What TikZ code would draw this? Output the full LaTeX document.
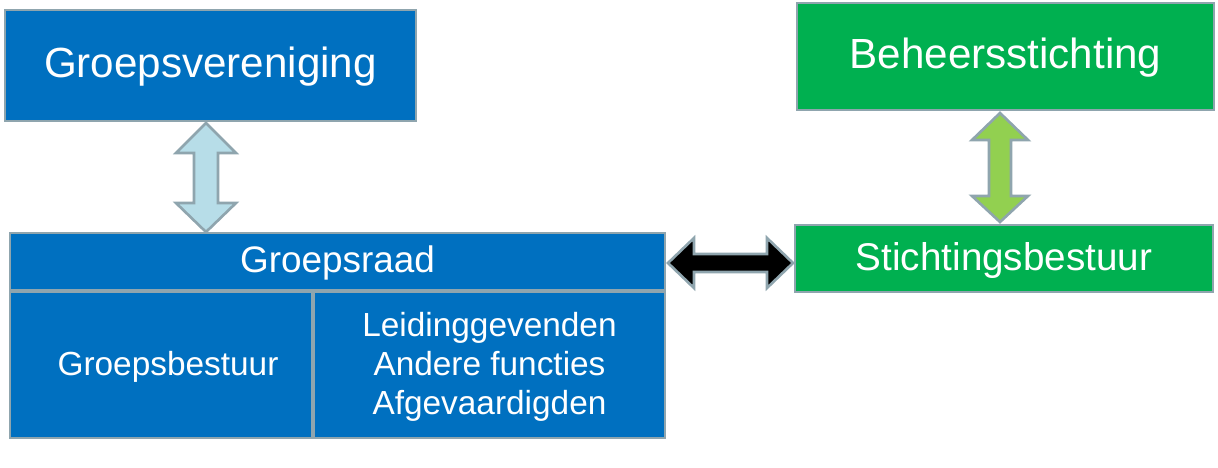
\documentclass[tikz,border=0pt]{standalone}
\usepackage{fontspec}
\setmainfont{Liberation Sans}
\definecolor{bl}{HTML}{0070C0}
\definecolor{gr}{HTML}{00B050}
\definecolor{bd}{HTML}{8FA5AE}
\definecolor{lb}{HTML}{B7DDE8}
\definecolor{lg}{HTML}{92D050}
\begin{document}
\begin{tikzpicture}[x=0.02cm,y=-0.02cm,
 box/.style={draw=bd,line width=1.5pt,text=white,inner sep=0pt},
 barrow/.style={draw=bd,line width=1.5pt,line join=miter}]
\useasboundingbox (0,0) rectangle (1218,467);
\fill[bl,draw=bd,line width=1.5pt] (5,10) rectangle (416,121);
\node[text=white,font=\fontsize{24}{28}\selectfont] (gv) at (210.5,67) {Groepsvereniging};
\fill[gr,draw=bd,line width=1.5pt] (797,3) rectangle (1214,110);
\node[text=white,font=\fontsize{24}{28}\selectfont] (bs) at (1005.5,58) {Beheersstichting};
\fill[bl,draw=bd,line width=1.5pt] (10,233) rectangle (665,290);
\node[text=white,font=\fontsize{21}{25}\selectfont] (gr) at (337.5,263) {Groepsraad};
\fill[bl,draw=bd,line width=1.5pt] (10,292) rectangle (312,438);
\node[text=white,font=\fontsize{19}{23}\selectfont] (gb) at (168,367) {Groepsbestuur};
\fill[bl,draw=bd,line width=1.5pt] (314,292) rectangle (665,438);
\node[text=white,font=\fontsize{19}{23}\selectfont,align=center] (lf) at (489.5,367) {Leidinggevenden\\[-1pt]Andere functies\\[-1pt]Afgevaardigden};
\fill[gr,draw=bd,line width=1.5pt] (795,225) rectangle (1213,292);
\node[text=white,font=\fontsize{22}{26}\selectfont] (sb) at (1004,261) {Stichtingsbestuur};
% light blue vertical arrow
\filldraw[barrow,fill=lb] (206,123) -- (236,153) -- (218,153) -- (218,203) -- (236,203) -- (206,232) -- (176,203) -- (194,203) -- (194,153) -- (176,153) -- cycle;
% green vertical arrow
\filldraw[barrow,fill=lg] (1000,113) -- (1028,140) -- (1011,140) -- (1011,196) -- (1028,196) -- (1000,222) -- (972,196) -- (989,196) -- (989,140) -- (972,140) -- cycle;
% black horizontal arrow
\filldraw[barrow,fill=black] (668,263) -- (694,238) -- (694,254) -- (767,254) -- (767,238) -- (793,263) -- (767,288) -- (767,272) -- (694,272) -- (694,288) -- cycle;
\end{tikzpicture}
\end{document}
